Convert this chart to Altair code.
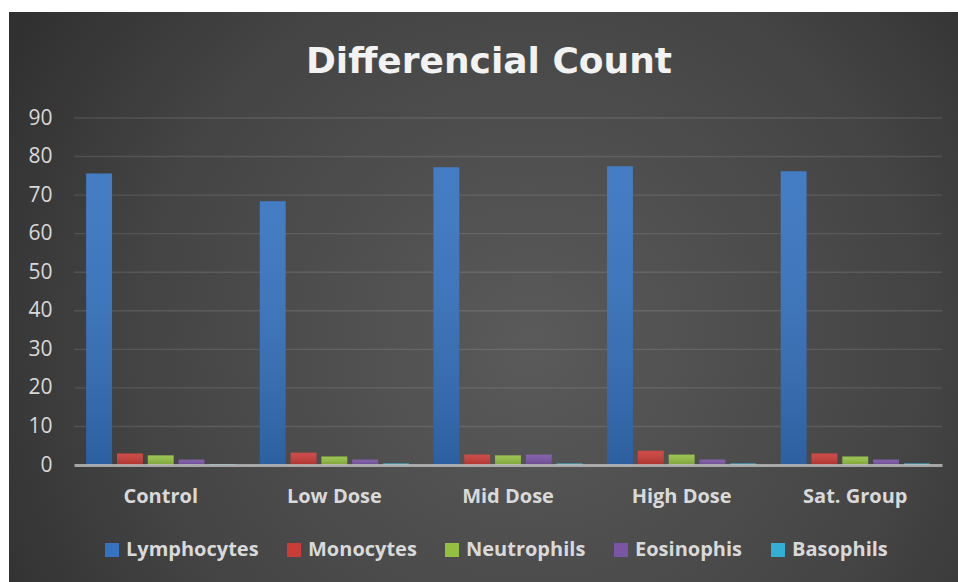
import altair as alt
import pandas as pd

# Groups and white-cell categories
groups = ["Control", "Low Dose", "Mid Dose", "High Dose", "Sat. Group"]
cells = ["Lymphocytes", "Monocytes", "Neutrophils", "Eosinophis", "Basophils"]

# Percent values per group
lymphocytes = [75.6, 68.4, 77.2, 77.5, 76.2]
monocytes = [3.0, 3.2, 2.7, 3.7, 3.0]
neutrophils = [2.5, 2.2, 2.5, 2.7, 2.2]
eosinophis = [1.4, 1.4, 2.7, 1.4, 1.4]
basophils = [0.2, 0.4, 0.4, 0.4, 0.4]

y_ticks = [0, 10, 20, 30, 40, 50, 60, 70, 80, 90]
cell_colors = ["#3572bf", "#c93c37", "#93bf43", "#7a55a6", "#35aed6"]

series = [lymphocytes, monocytes, neutrophils, eosinophis, basophils]
rows = []
for cell, vals in zip(cells, series):
    for g, v in zip(groups, vals):
        rows.append({"group": g, "cell": cell, "value": v})
df = pd.DataFrame(rows)

W, H = 868, 347
LEFT, TOP = 74, 118

# Chart background: radial glow, darker toward the corners
background = alt.Chart(alt.Data(values=[{}])).mark_rect(
    color={
        "gradient": "radial",
        "x1": 0.55, "y1": 0.55, "r1": 0,
        "x2": 0.55, "y2": 0.55, "r2": 0.75,
        "stops": [
            {"offset": 0, "color": "#5a5a5a"},
            {"offset": 0.55, "color": "#444444"},
            {"offset": 1, "color": "#262626"},
        ],
    }
).encode(
    x=alt.value(9 - LEFT), x2=alt.value(958 - LEFT),
    y=alt.value(12 - TOP), y2=alt.value(582 - TOP),
)

y_scale = alt.Scale(domain=[0, 90], nice=False)
y_axis = alt.Axis(
    title=None, values=y_ticks, grid=False, domain=False, ticks=False,
    labelFont="Open Sans", labelFontSize=21, labelColor="#d9d9d9",
    labelPadding=22, zindex=2,
)

grid = alt.Chart(pd.DataFrame({"value": y_ticks[1:]})).mark_rule(
    color="#ffffff", opacity=0.11, strokeWidth=1.4
).encode(y=alt.Y("value:Q", scale=y_scale, axis=y_axis))

x_axis = alt.Axis(
    title=None, labelAngle=0, ticks=False, domain=True,
    domainColor="#c8c8c8", domainOpacity=0.75, domainWidth=3, grid=False,
    labelFont="Open Sans", labelFontWeight="bold", labelFontSize=20,
    labelColor="#d9d9d9", labelPadding=21, zindex=2,
)
x_enc = alt.X(
    "group:N", sort=groups,
    scale=alt.Scale(paddingInner=0.141, paddingOuter=0.07),
    axis=x_axis,
)
xo_enc = alt.XOffset("cell:N", sort=cells, scale=alt.Scale(paddingInner=0.16, paddingOuter=0))
y_enc = alt.Y("value:Q", scale=y_scale, axis=y_axis)

bars = alt.Chart(df).mark_bar().encode(
    x=x_enc, xOffset=xo_enc, y=y_enc,
    color=alt.Color(
        "cell:N", sort=cells,
        scale=alt.Scale(domain=cells, range=cell_colors),
        legend=alt.Legend(
            title=None, orient="none", legendX=28, legendY=422,
            direction="horizontal", symbolType="square", symbolSize=196,
            symbolStrokeWidth=0, labelFont="Open Sans", labelFontWeight="bold",
            labelFontSize=20, labelColor="#d9d9d9", labelOffset=4,
            columnPadding=25, padding=0,
        ),
    ),
)

# Soft top-to-bottom shading over each bar
shade = alt.Chart(df).mark_bar(
    color={
        "gradient": "linear", "x1": 0, "y1": 0, "x2": 0, "y2": 1,
        "stops": [
            {"offset": 0, "color": "rgba(255,255,255,0.08)"},
            {"offset": 1, "color": "rgba(0,0,0,0.16)"},
        ],
    }
).encode(x=x_enc, xOffset=xo_enc, y=y_enc)

title = alt.Chart(alt.Data(values=[{}])).mark_text(
    text="Differencial Count", font="DejaVu Sans", fontWeight="bold", fontSize=36,
    color="#f2f2f2", align="center", baseline="alphabetic",
).encode(x=alt.value(489 - LEFT), y=alt.value(73 - TOP))

chart = alt.layer(background, grid, bars, shade, title).properties(
    width=W, height=H,
    autosize=alt.AutoSizeParams(type="none"),
    padding={"left": LEFT, "top": TOP, "right": 958 - LEFT - W, "bottom": 582 - TOP - H},
    background="#ffffff",
).configure_view(stroke=None)

chart.save("out.html", embed_options={"renderer": "svg", "actions": False})
